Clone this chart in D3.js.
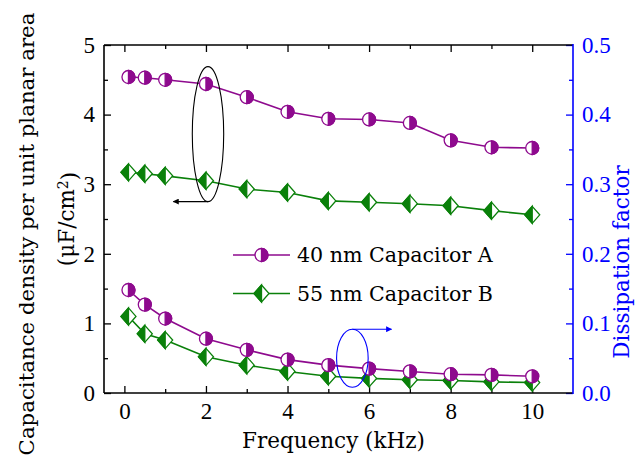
<!DOCTYPE html>
<html><head><meta charset="utf-8">
<script src="https://cdn.jsdelivr.net/npm/d3@7"></script>
<style>
html,body{margin:0;padding:0;background:#fff;}
svg{display:block;}
</style></head>
<body>
<svg id="chart" width="642" height="462"></svg>
<script>
const freq = [0.1, 0.5, 1, 2, 3, 4, 5, 6, 7, 8, 9, 10];
const capA = [4.54, 4.53, 4.50, 4.44, 4.25, 4.04, 3.94, 3.93, 3.88, 3.63, 3.53, 3.52];
const capB = [3.17, 3.15, 3.12, 3.05, 2.93, 2.88, 2.76, 2.74, 2.72, 2.69, 2.62, 2.56];
const dfA = [0.148, 0.127, 0.107, 0.078, 0.062, 0.048, 0.040, 0.035, 0.031, 0.027, 0.026, 0.024];
const dfB = [0.110, 0.085, 0.076, 0.052, 0.040, 0.031, 0.024, 0.021, 0.019, 0.018, 0.016, 0.015];
const seriesNames = ["40 nm Capacitor A", "55 nm Capacitor B"];
const xTicks = [0, 2, 4, 6, 8, 10];
const yLeftTicks = [0, 1, 2, 3, 4, 5];
const yRightTicks = [0.0, 0.1, 0.2, 0.3, 0.4, 0.5];

const purple = "#8e0a8e", green = "#0a800a", blue = "#0000ff";
const serif = "'DejaVu Serif', serif";
const numFont = "'Liberation Serif', serif";

const svg = d3.select("#chart");
const m = {l:104, r:573, t:45, b:393};
const x = d3.scaleLinear().domain([-0.5, 11]).range([m.l, m.r]);
const yL = d3.scaleLinear().domain([0, 5]).range([m.b, m.t]);
const yR = d3.scaleLinear().domain([0, 0.5]).range([m.b, m.t]);

function styleAxis(g, color, font, size){
  g.select(".domain").remove();
  g.selectAll("line").attr("stroke", color).attr("stroke-width", 1.3);
  g.selectAll("text").attr("fill", color).style("font-family", font).style("font-size", size+"px");
}
const gx = svg.append("g").attr("transform", `translate(0,${m.b})`)
  .call(d3.axisBottom(x).tickValues(d3.range(1, 11, 2)).tickSize(-4).tickFormat(""));
styleAxis(gx, "#000", numFont, 23);
const gx2 = svg.append("g").attr("transform", `translate(0,${m.b})`)
  .call(d3.axisBottom(x).tickValues(xTicks).tickSize(-7).tickFormat(d3.format("d")));
styleAxis(gx2, "#000", numFont, 23);
gx2.selectAll("text").attr("dy", "0.71em").attr("y", 10);

const gxt = svg.append("g").attr("transform", `translate(0,${m.t})`)
  .call(d3.axisTop(x).tickValues(d3.range(1, 11, 2)).tickSize(-4).tickFormat(""));
styleAxis(gxt, "#000", numFont, 23);
const gxt2 = svg.append("g").attr("transform", `translate(0,${m.t})`)
  .call(d3.axisTop(x).tickValues(xTicks).tickSize(-7).tickFormat(""));
styleAxis(gxt2, "#000", numFont, 23);

const gyl = svg.append("g").attr("transform", `translate(${m.l},0)`)
  .call(d3.axisLeft(yL).tickValues(d3.range(0.5, 5, 1)).tickSize(-4).tickFormat(""));
styleAxis(gyl, "#000", numFont, 23);
const gyl2 = svg.append("g").attr("transform", `translate(${m.l},0)`)
  .call(d3.axisLeft(yL).tickValues(yLeftTicks).tickSize(-7).tickFormat(d3.format("d")));
styleAxis(gyl2, "#000", numFont, 23);
gyl2.selectAll("text").attr("x", -9);

const gyr = svg.append("g").attr("transform", `translate(${m.r},0)`)
  .call(d3.axisRight(yR).tickValues(d3.range(0.05, 0.5, 0.1)).tickSize(-4).tickFormat(""));
styleAxis(gyr, blue, numFont, 23);
const gyr2 = svg.append("g").attr("transform", `translate(${m.r},0)`)
  .call(d3.axisRight(yR).tickValues(yRightTicks).tickSize(-7).tickFormat(d3.format(".1f")));
styleAxis(gyr2, blue, numFont, 23);
gyr2.selectAll("text").attr("x", 9);

svg.append("line").attr("x1", m.l).attr("x2", m.l).attr("y1", m.t).attr("y2", m.b).attr("stroke", "#000").attr("stroke-width", 1.6);
svg.append("line").attr("x1", m.l).attr("x2", m.r).attr("y1", m.b).attr("y2", m.b).attr("stroke", "#000").attr("stroke-width", 1.6);
svg.append("line").attr("x1", m.l).attr("x2", m.r).attr("y1", m.t).attr("y2", m.t).attr("stroke", "#000").attr("stroke-width", 1.6);
svg.append("line").attr("x1", m.r).attr("x2", m.r).attr("y1", m.t-1).attr("y2", m.b+1).attr("stroke", blue).attr("stroke-width", 1.6);

const R = 6.5;
function circleMarker(g, color){
  g.append("circle").attr("r", R).attr("fill", "#fff").attr("stroke", color).attr("stroke-width", 1.3);
  g.append("path").attr("d", `M0,${-R} A${R},${R} 0 0 1 0,${R} Z`).attr("fill", color).attr("stroke", color).attr("stroke-width", 1.3);
}
const DW = 7.5, DH = 8.5;
function diamondMarker(g, color){
  g.append("path").attr("d", `M0,${-DH} L${DW},0 L0,${DH} L${-DW},0 Z`).attr("fill", "#fff").attr("stroke", color).attr("stroke-width", 1.3);
  g.append("path").attr("d", `M0,${-DH} L${-DW},0 L0,${DH} Z`).attr("fill", color).attr("stroke", color).attr("stroke-width", 1.3);
}

function drawSeries(vals, yScale, color, markerFn){
  const pts = freq.map((f, i) => [x(f), yScale(vals[i])]);
  svg.append("path").attr("d", d3.line()(pts)).attr("fill", "none").attr("stroke", color).attr("stroke-width", 1.6);
  pts.forEach(p => markerFn(svg.append("g").attr("transform", `translate(${p[0]},${p[1]})`), color));
}
drawSeries(capB, yL, green, diamondMarker);
drawSeries(capA, yL, purple, circleMarker);
drawSeries(dfB, yR, green, diamondMarker);
drawSeries(dfA, yR, purple, circleMarker);

const defs = svg.append("defs");
function arrowHead(id, color){
  defs.append("marker").attr("id", id).attr("viewBox", "0 0 10 10").attr("refX", 9).attr("refY", 5)
    .attr("markerWidth", 10).attr("markerHeight", 6).attr("orient", "auto").attr("markerUnits", "userSpaceOnUse")
    .append("path").attr("d", "M0,0 L10,5 L0,10 Z").attr("fill", color);
}
arrowHead("ahBlack", "#000");
arrowHead("ahBlue", blue);
const e1 = {cx: x(2.05), cy: yL(3.72), rx: 15.7, ry: 67.5};
svg.append("ellipse").attr("cx", e1.cx).attr("cy", e1.cy).attr("rx", e1.rx).attr("ry", e1.ry)
  .attr("fill", "none").attr("stroke", "#000").attr("stroke-width", 1.1);
svg.append("line").attr("x1", e1.cx).attr("y1", e1.cy + e1.ry).attr("x2", x(1.2)).attr("y2", e1.cy + e1.ry)
  .attr("stroke", "#000").attr("stroke-width", 1.1).attr("marker-end", "url(#ahBlack)");
const e2 = {cx: x(5.59), cy: yR(0.05), rx: 15.8, ry: 29};
svg.append("ellipse").attr("cx", e2.cx).attr("cy", e2.cy).attr("rx", e2.rx).attr("ry", e2.ry)
  .attr("fill", "none").attr("stroke", blue).attr("stroke-width", 1.1);
svg.append("line").attr("x1", e2.cx).attr("y1", e2.cy - e2.ry).attr("x2", x(6.55)).attr("y2", e2.cy - e2.ry)
  .attr("stroke", blue).attr("stroke-width", 1.1).attr("marker-end", "url(#ahBlue)");

const leg = svg.append("g");
[[purple, circleMarker, 255], [green, diamondMarker, 293.5]].forEach((d, i) => {
  leg.append("line").attr("x1", 233).attr("x2", 290).attr("y1", d[2]).attr("y2", d[2]).attr("stroke", d[0]).attr("stroke-width", 1.6);
  d[1](leg.append("g").attr("transform", `translate(261.5,${d[2]})`), d[0]);
  leg.append("text").attr("x", 297).attr("y", d[2]).attr("dy", "0.36em")
    .style("font-family", serif).style("font-size", "20.6px").attr("fill", "#000").text(seriesNames[i]);
});

svg.append("text").attr("x", (m.l + m.r) / 2 - 5).attr("y", 448).attr("text-anchor", "middle")
  .style("font-family", serif).style("font-size", "21.5px").text("Frequency (kHz)");
svg.append("text").attr("transform", "translate(34,234) rotate(-90)").attr("text-anchor", "middle")
  .style("font-family", serif).style("font-size", "21.3px").text("Capacitance density per unit planar area");
const t2 = svg.append("text").attr("transform", "translate(74,219) rotate(-90)").attr("text-anchor", "middle")
  .style("font-family", serif).style("font-size", "21.5px");
t2.append("tspan").text("(μF/cm");
t2.append("tspan").attr("dy", "-0.45em").style("font-size", "14px").text("2");
t2.append("tspan").attr("dy", "0.45em").text(")");
svg.append("text").attr("transform", "translate(629,262) rotate(-90)").attr("text-anchor", "middle")
  .style("font-family", serif).style("font-size", "21.5px").attr("fill", blue).text("Dissipation factor");
</script>
</body></html>
